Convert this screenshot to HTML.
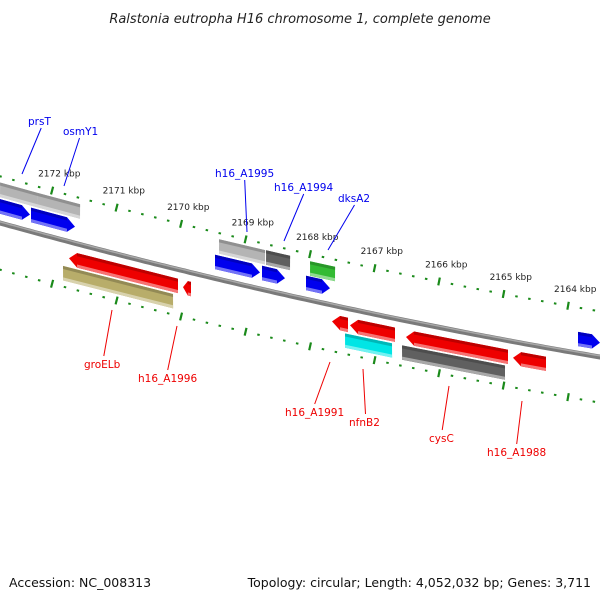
<!DOCTYPE html>
<html><head><meta charset="utf-8"><style>
html,body{margin:0;padding:0;background:#fff;}
svg{display:block;}
text{font-family:"DejaVu Sans","Liberation Sans",sans-serif;}
</style></head><body>
<svg id="map" width="600" height="600" viewBox="0 0 600 600" xmlns="http://www.w3.org/2000/svg">
<text x="300" y="23" text-anchor="middle" font-size="13" font-style="italic" fill="#222">Ralstonia eutropha H16 chromosome 1, complete genome</text>
<text x="9" y="587" font-size="12.5" fill="#111">Accession: NC_008313</text>
<text x="591" y="587" text-anchor="end" font-size="12.5" fill="#111">Topology: circular; Length: 4,052,032 bp; Genes: 3,711</text>
<g id="layer"></g>
</svg>
<script>
// tick data (kbp)
const tickKbp = [2173,2172,2171,2170,2169,2168,2167,2166,2165,2164,2163];
const tickLabels = ["","2172 kbp","2171 kbp","2170 kbp","2169 kbp","2168 kbp","2167 kbp","2166 kbp","2165 kbp","2164 kbp",""];
// features: start/end in x-position along map, strand, track
const featStart = [0,37,0,31,219,215,266,262,310,306,578, 69,63,183,332,350,345,406,402,513];
const featEnd   = [37,80,30,75,265,260,290,285,335,330,600, 178,173,191,348,395,392,508,505,546];
const featTrack = [-32,-32,-16,-16,-32,-16,-32,-16,-31,-16,-14, 16,32,16,16,16,32,16,32,16];
const featDir   = [0,0,1,1,0,1,0,1,0,1,1, -1,0,-1,-1,-1,0,-1,0,-1];
const featColor = ["#b4b4b4","#b4b4b4","#0000ee","#0000ee","#b4b4b4","#0000ee","#606060","#0000ee","#33bb33","#0000ee","#0000ee",
 "#ee0000","#b8ad6a","#ee0000","#ee0000","#ee0000","#00e5e5","#ee0000","#606060","#ee0000"];
const lblText = ["prsT","osmY1","h16_A1995","h16_A1994","dksA2","groELb","h16_A1996","h16_A1991","nfnB2","cysC","h16_A1988"];
const lblX = [28,63,215,274,338,84,138,285,349,429,487];
const lblY = [125,135,177,191,202,368,382,416,426,442,456];
const lblX2 = [22,64,247,284,328,112,177,330,363,449,522];
const lblY2 = [174,186,232,241,250,310,326,362,369,386,401];
const lblColor = ["#0000ee","#0000ee","#0000ee","#0000ee","#0000ee","#ee0000","#ee0000","#ee0000","#ee0000","#ee0000","#ee0000"];

const NS="http://www.w3.org/2000/svg";
const layer=document.getElementById('layer');
function yb(x){return 223+0.2767*x-0.0000889*x*x;}
function slope(x){return 0.2767-0.000178*x;}
function pt0(x,off){const s=slope(x),n=Math.hypot(1,s);return [x-off*s/n, yb(x)+off/n];}
function pt(x,off){const s=slope(x),n=Math.hypot(1,s);return pt0(x+off*s/n,off);}
function kx(k){return 52+(2172-k)*64.5;}
function mk(tag,attrs){const e=document.createElementNS(NS,tag);for(const k in attrs)e.setAttribute(k,attrs[k]);layer.appendChild(e);return e;}
function shade(hex,f){const v=parseInt(hex.slice(1),16);let r=v>>16,g=(v>>8)&255,b=v&255;
 if(f>0){r+= (255-r)*f;g+=(255-g)*f;b+=(255-b)*f;}else{r*=1+f;g*=1+f;b*=1+f;}
 return "rgb("+Math.round(r)+","+Math.round(g)+","+Math.round(b)+")";}

// backbone
let d="";for(let x=-5;x<=605;x+=5){const p=pt(x,0);d+=(x==-5?"M":"L")+p[0].toFixed(1)+","+p[1].toFixed(1);}
let bb=mk('path',{d:d,stroke:"#7a7a7a","stroke-width":5,fill:"none"});

let bb2=mk('path',{d:d,stroke:"#a8a8a8","stroke-width":1.5,fill:"none",transform:"translate(0,-1.2)"});


// ticks
[-45,45].forEach(function(off){
 for(let i=0;i<tickKbp.length;i++){
  for(let j=0;j<5;j++){
   const k=tickKbp[i]-j*0.2;const x=kx(k);if(x<-5||x>605)continue;
   const major=(j==0);
   const c=pt(x,off);const s=slope(c[0]),n=Math.hypot(1,s);const L=major?4:1;
   const t=mk('line',{x1:c[0]+L*s/n,y1:c[1]-L/n,x2:c[0]-L*s/n,y2:c[1]+L/n,stroke:"#1a8a1a","stroke-width":major?2.2:2.5});
   
   
  }
 }
});
for(let i=0;i<tickLabels.length;i++){
 if(!tickLabels[i])continue;
 const p=pt(kx(tickKbp[i]),-45);
 const t=mk('text',{x:p[0]-14,y:p[1]-14,"font-size":9,fill:"#222"});
 t.textContent=tickLabels[i];
 
 
}

// features
for(let i=0;i<featStart.length;i++){
 const x0=featStart[i],x1=featEnd[i],off=featTrack[i],dir=featDir[i],h=7;
 const head=Math.min(8,(x1-x0)*0.6);
 let pts;
 if(dir==1){pts=[pt(x0,off-h),pt(x1-head,off-h),pt(x1,off),pt(x1-head,off+h),pt(x0,off+h)];}
 else if(dir==-1){pts=[pt(x0+head,off-h),pt(x1,off-h),pt(x1,off+h),pt(x0+head,off+h),pt(x0,off)];}
 else{pts=[pt(x0,off-h),pt(x1,off-h),pt(x1,off+h),pt(x0,off+h)];}
 const g=mk('polygon',{points:pts.map(p=>p[0].toFixed(1)+","+p[1].toFixed(1)).join(" "),fill:featColor[i]});
 
 
 const xa=dir==-1?x0+head:x0, xb=dir==1?x1-head:x1;
 const top=[pt(xa,off-h),pt(xb,off-h),pt(xb,off-h+3),pt(xa,off-h+3)];
 const tb=mk('polygon',{points:top.map(p=>p.join(",")).join(" "),fill:shade(featColor[i],-0.2)});
 
 
 const bot=[pt(xa,off+h-3),pt(xb,off+h-3),pt(xb,off+h),pt(xa,off+h)];
 const bt=mk('polygon',{points:bot.map(p=>p.join(",")).join(" "),fill:shade(featColor[i],0.45)});
 
 
}

// labels
for(let i=0;i<lblText.length;i++){
 const up=lblY[i]<lblY2[i];
 const lx=lblX[i]+lblText[i].length*3.3;
 const ln=mk('line',{x1:lx,y1:up?lblY[i]+3:lblY[i]-12,x2:lblX2[i],y2:lblY2[i],stroke:lblColor[i],"stroke-width":1});
 
 
 const t=mk('text',{x:lblX[i],y:lblY[i],"font-size":10.5,fill:lblColor[i]});
 t.textContent=lblText[i];
 
 
}
</script>
</body></html>
